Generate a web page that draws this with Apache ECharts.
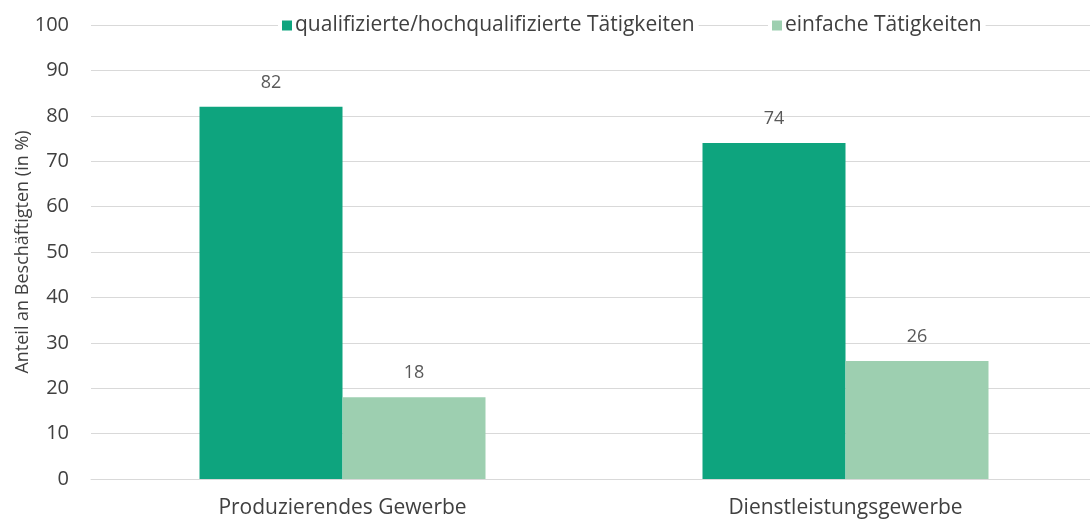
<!DOCTYPE html>
<html>
<head>
<meta charset="utf-8">
<script src="https://cdn.jsdelivr.net/npm/echarts@6/dist/echarts.min.js"></script>
<style>
  html, body { margin: 0; padding: 0; background: #fff; }
  #chart { width: 1090px; height: 522px; }
</style>
</head>
<body>
<div id="chart"></div>
<script>
const categories = ['Produzierendes Gewerbe', 'Dienstleistungsgewerbe'];
const seriesNames = ['qualifizierte/hochqualifizierte Tätigkeiten', 'einfache Tätigkeiten'];
const qualifiziert = [82, 74];
const einfach = [18, 26];
const yTicks = [0, 10, 20, 30, 40, 50, 60, 70, 80, 90, 100];

const font = '"Open Sans", sans-serif';

const chart = echarts.init(document.getElementById('chart'));

// one legend per entry so each can sit where it is in the original
function legendAt(name, left) {
    return {
        data: [name],
        left: left,
        top: 13,
        itemWidth: 10,
        itemHeight: 10,
        icon: 'rect',
        backgroundColor: '#fff',
        padding: [2, 4],
        textStyle: { fontSize: 21, color: '#404040', fontFamily: font, padding: [0, 0, 0, -2] }
    };
}

const option = {
    backgroundColor: '#fff',
    animation: false,
    textStyle: { fontFamily: font },
    legend: [
        legendAt(seriesNames[0], 278),
        legendAt(seriesNames[1], 768)
    ],
    grid: {
        left: 91,
        top: 25,
        width: 1006,
        bottom: 43,
        outerBoundsMode: 'none'
    },
    xAxis: {
        type: 'category',
        data: categories,
        axisLine: { show: true, lineStyle: { color: '#d9d9d9' } },
        axisTick: { show: false },
        axisLabel: { fontSize: 21, color: '#404040', margin: 19, fontFamily: font }
    },
    yAxis: {
        type: 'value',
        min: yTicks[0],
        max: yTicks[yTicks.length - 1],
        interval: 10,
        name: 'Anteil an Beschäftigten (in %)',
        nameLocation: 'middle',
        nameGap: 59,
        nameMoveOverlap: false,
        nameTextStyle: { fontSize: 18, color: '#404040', fontFamily: font },
        axisLine: { show: false },
        axisTick: { show: false },
        axisLabel: { fontSize: 20, color: '#404040', margin: 22, fontFamily: font },
        splitLine: { lineStyle: { color: '#d9d9d9', width: 1 } }
    },
    series: [
        {
            name: seriesNames[0],
            type: 'bar',
            data: qualifiziert,
            barWidth: 143,
            barGap: '0%',
            itemStyle: { color: '#0ea47e' },
            label: { show: true, position: 'top', distance: 15, fontSize: 18, color: '#595959', fontFamily: font }
        },
        {
            name: seriesNames[1],
            type: 'bar',
            data: einfach,
            barWidth: 143,
            barGap: '0%',
            itemStyle: { color: '#9dcfb0' },
            label: { show: true, position: 'top', distance: 15, fontSize: 18, color: '#595959', fontFamily: font }
        }
    ]
};

chart.setOption(option);
</script>
</body>
</html>
